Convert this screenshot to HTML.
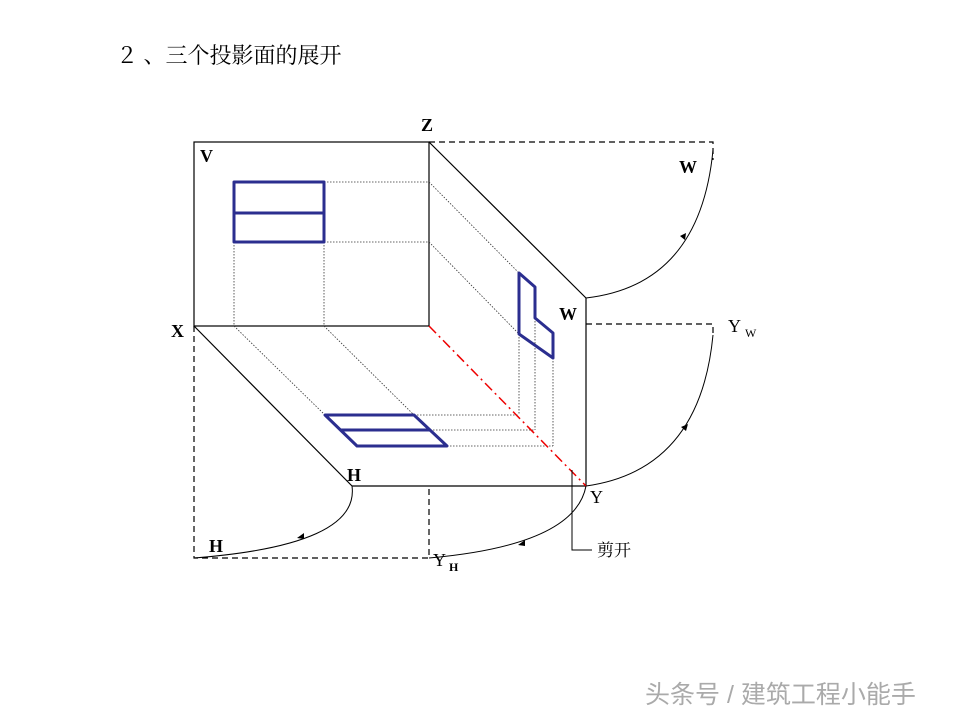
<!DOCTYPE html>
<html><head><meta charset="utf-8"><style>
body{margin:0;background:#fff;width:960px;height:720px;overflow:hidden}
svg{display:block}
text{font-family:"Liberation Serif","Noto Serif CJK SC",serif}
</style></head><body>
<svg width="960" height="720" viewBox="0 0 960 720">
<text x="116" y="63" font-size="22">２ 、三个投影面的展开</text>
<g stroke="#000" stroke-width="1.2" fill="none">
<rect x="194" y="142" width="235" height="184"/>
<line x1="429" y1="142" x2="586" y2="298"/>
<line x1="586" y1="298" x2="586" y2="486"/>
<line x1="194" y1="326" x2="352" y2="486"/>
<line x1="352" y1="486" x2="586" y2="486"/>
</g>
<g stroke="#000" stroke-width="1.2" fill="none" stroke-dasharray="6,4">
<polyline points="429,142 713,142 713,160"/>
<polyline points="586,324 713,324 713,335"/>
<polyline points="194,326 194,558 429,558 429,486"/>
</g>
<g stroke="#333" stroke-width="0.8" fill="none" stroke-dasharray="1.5,1.5">
<line x1="234" y1="242" x2="234" y2="326"/><line x1="324" y1="242" x2="324" y2="326"/>
<line x1="324" y1="182" x2="429" y2="182"/><line x1="324" y1="242" x2="429" y2="242"/>
<line x1="429" y1="182" x2="519" y2="273"/><line x1="429" y1="242" x2="519" y2="334"/>
<line x1="234" y1="326" x2="325" y2="415"/><line x1="324" y1="326" x2="414" y2="415"/>
<line x1="414" y1="415" x2="519" y2="415"/><line x1="430" y1="430" x2="535" y2="430"/><line x1="447" y1="446" x2="553" y2="446"/>
<line x1="519" y1="334" x2="519" y2="415"/><line x1="535" y1="318" x2="535" y2="430"/><line x1="553" y1="358" x2="553" y2="446"/>
</g>
<line x1="429" y1="326" x2="586" y2="486" stroke="#e00" stroke-width="1.5" stroke-dasharray="10,4,2,4"/>
<g stroke="#2b2e8f" stroke-width="3" fill="none" stroke-linejoin="round">
<rect x="234" y="182" width="90" height="60"/><line x1="234" y1="213" x2="324" y2="213"/>
<polygon points="519,273 535,287 535,318 553,333 553,358 519,334"/>
<polygon points="325,415 414,415 447,446 357,446"/><line x1="340" y1="430" x2="430" y2="430"/>
</g>
<g stroke="#000" stroke-width="1" fill="none">
<path d="M586,298 Q700,285 713,150"/>
<path d="M586,486 Q700,470 713,335"/>
<path d="M352,486 Q360,545 194,558"/>
<path d="M586,486 Q575,545 429,558"/>
<polyline points="572,470 572,550 592,550"/>
</g>
<g fill="#000">
<path d="M686,233 l-6,3 l5,4 z"/>
<path d="M688,424 l-7,3 l5,4 z"/>
<path d="M297,538 l7,-5 l0,6 z"/>
<path d="M518,545 l7,-5 l0,6 z"/>
</g>
<g font-size="18" fill="#000" font-weight="bold">
<text x="421" y="131">Z</text>
<text x="200" y="162">V</text>
<text x="679" y="173">W</text>
<text x="559" y="320">W</text>
<text x="171" y="337">X</text>
<text x="728" y="332" font-weight="normal">Y</text><text x="745" y="337" font-size="12" font-weight="normal">W</text>
<text x="347" y="481">H</text>
<text x="209" y="552">H</text>
<text x="590" y="503" font-weight="normal">Y</text>
<text x="433" y="566" font-weight="normal">Y</text><text x="449" y="571" font-size="12">H</text>
<text x="597" y="556" font-size="17" font-weight="normal">剪开</text>
</g>
<text x="645" y="703" font-size="25" fill="#aaa" style="font-family:'Liberation Sans','Noto Sans CJK SC',sans-serif">头条号 / 建筑工程小能手</text>
</svg>
</body></html>
